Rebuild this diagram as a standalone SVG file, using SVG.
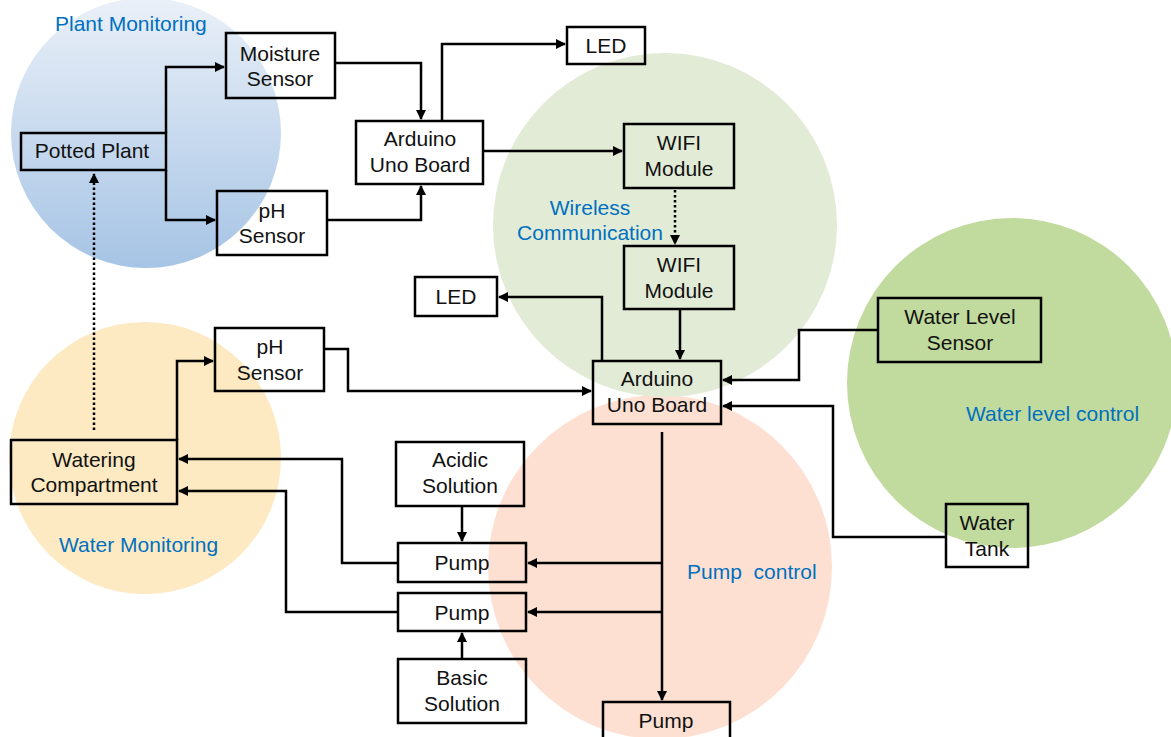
<svg xmlns="http://www.w3.org/2000/svg" width="1171" height="737" viewBox="0 0 1171 737">
<defs>
<linearGradient id="gBlue" x1="0" y1="0" x2="0" y2="1">
<stop offset="0" stop-color="#eaf0f8"/>
<stop offset="1" stop-color="#a6c4e5"/>
</linearGradient>
<marker id="ah" viewBox="0 0 10 10" refX="9" refY="5" markerWidth="4" markerHeight="4" orient="auto" markerUnits="strokeWidth">
<path d="M0,0 L10,5 L0,10 Z" fill="#000"/>
</marker>
</defs>
<style>
.box{fill:none;stroke:#000;stroke-width:2.5}
.t{font-family:"Liberation Sans",Arial,sans-serif;font-size:21px;fill:#111;text-anchor:middle}
.lbl{font-family:"Liberation Sans",Arial,sans-serif;font-size:21px;fill:#0070c0}
.c{fill:none;stroke:#000;stroke-width:2.5}
.d{fill:none;stroke:#000;stroke-width:2.5;stroke-dasharray:2.5 2.5}
</style>
<g id="regions">
<circle cx="146" cy="133" r="135" fill="url(#gBlue)"/>
<circle cx="145" cy="458" r="136" fill="#fde9c2"/>
<circle cx="660" cy="567" r="172" fill="#fde0d1"/>
<circle cx="665" cy="225" r="172" fill="#e2ebd6"/>
<circle cx="1012" cy="383" r="165" fill="#c1da9d"/>
</g>
<g id="region-labels">
<text class="lbl" x="55" y="31">Plant Monitoring</text>
<text class="lbl" x="590" y="215" text-anchor="middle">Wireless</text>
<text class="lbl" x="590" y="240" text-anchor="middle">Communication</text>
<text class="lbl" x="59" y="552">Water Monitoring</text>
<text class="lbl" x="687" y="579" style="white-space:pre">Pump  control</text>
<text class="lbl" x="966" y="421">Water level control</text>
</g>
<g id="connectors">
<path class="c" d="M166,133 V67 H224" marker-end="url(#ah)"/>
<path class="c" d="M166,170 V220 H215" marker-end="url(#ah)"/>
<path class="c" d="M335,63 H421 V119" marker-end="url(#ah)"/>
<path class="c" d="M327,220 H421 V186" marker-end="url(#ah)"/>
<path class="c" d="M442,121 V44 H565" marker-end="url(#ah)"/>
<path class="c" d="M483,151 H622" marker-end="url(#ah)"/>
<path class="d" d="M675,190 V244" marker-end="url(#ah)"/>
<path class="c" d="M680,309 V359" marker-end="url(#ah)"/>
<path class="c" d="M602,361 V297 H499" marker-end="url(#ah)"/>
<path class="c" d="M878,330 H799 V380 H723" marker-end="url(#ah)"/>
<path class="c" d="M946,537 H833 V406 H723" marker-end="url(#ah)"/>
<path class="c" d="M324,349 H348 V391 H591" marker-end="url(#ah)"/>
<path class="c" d="M177,440 V361 H213" marker-end="url(#ah)"/>
<path class="d" d="M94,430 V174" marker-end="url(#ah)"/>
<path class="c" d="M662,432 V700" marker-end="url(#ah)"/>
<path class="c" d="M662,563 H528" marker-end="url(#ah)"/>
<path class="c" d="M662,612 H528" marker-end="url(#ah)"/>
<path class="c" d="M398,563 H342 V459 H179" marker-end="url(#ah)"/>
<path class="c" d="M398,612 H286 V491 H179" marker-end="url(#ah)"/>
<path class="c" d="M462,506 V541" marker-end="url(#ah)"/>
<path class="c" d="M462,659 V633" marker-end="url(#ah)"/>
</g>
<g id="potted-plant"><rect class="box" x="21" y="133" width="145" height="37"/><text class="t" x="92" y="158">Potted Plant</text></g>
<g id="moisture-sensor"><rect class="box" x="226" y="33" width="109" height="65"/><text class="t" x="280" y="61">Moisture</text><text class="t" x="280" y="86">Sensor</text></g>
<g id="ph-sensor-plant"><rect class="box" x="217" y="191" width="110" height="64"/><text class="t" x="272" y="218">pH</text><text class="t" x="272" y="243">Sensor</text></g>
<g id="arduino-1"><rect class="box" x="356" y="121" width="127" height="63"/><text class="t" x="420" y="146">Arduino</text><text class="t" x="420" y="172">Uno Board</text></g>
<g id="led-1"><rect class="box" x="567" y="27" width="78" height="37"/><text class="t" x="606" y="53">LED</text></g>
<g id="wifi-1"><rect class="box" x="624" y="124" width="110" height="64"/><text class="t" x="679" y="150">WIFI</text><text class="t" x="679" y="176">Module</text></g>
<g id="wifi-2"><rect class="box" x="624" y="246" width="110" height="63"/><text class="t" x="679" y="272">WIFI</text><text class="t" x="679" y="298">Module</text></g>
<g id="led-2"><rect class="box" x="415" y="277" width="82" height="39"/><text class="t" x="456" y="304">LED</text></g>
<g id="arduino-2"><rect class="box" x="593" y="361" width="128" height="63"/><text class="t" x="657" y="386">Arduino</text><text class="t" x="657" y="412">Uno Board</text></g>
<g id="water-level-sensor"><rect class="box" x="878" y="298" width="163" height="64"/><text class="t" x="960" y="324">Water Level</text><text class="t" x="960" y="350">Sensor</text></g>
<g id="water-tank"><rect class="box" x="946" y="504" width="82" height="63"/><text class="t" x="987" y="530">Water</text><text class="t" x="987" y="556">Tank</text></g>
<g id="ph-sensor-water"><rect class="box" x="215" y="328" width="109" height="63"/><text class="t" x="270" y="354">pH</text><text class="t" x="270" y="380">Sensor</text></g>
<g id="watering-compartment"><rect class="box" x="11" y="440" width="166" height="64"/><text class="t" x="94" y="467">Watering</text><text class="t" x="94" y="492">Compartment</text></g>
<g id="acidic-solution"><rect class="box" x="396" y="442" width="128" height="64"/><text class="t" x="460" y="467">Acidic</text><text class="t" x="460" y="493">Solution</text></g>
<g id="pump-1"><rect class="box" x="398" y="543" width="128" height="39"/><text class="t" x="462" y="570">Pump</text></g>
<g id="pump-2"><rect class="box" x="398" y="593" width="128" height="38"/><text class="t" x="462" y="620">Pump</text></g>
<g id="basic-solution"><rect class="box" x="398" y="659" width="128" height="64"/><text class="t" x="462" y="685">Basic</text><text class="t" x="462" y="711">Solution</text></g>
<g id="pump-3"><rect class="box" x="603" y="702" width="127" height="42"/><text class="t" x="666" y="728">Pump</text></g>
</svg>
